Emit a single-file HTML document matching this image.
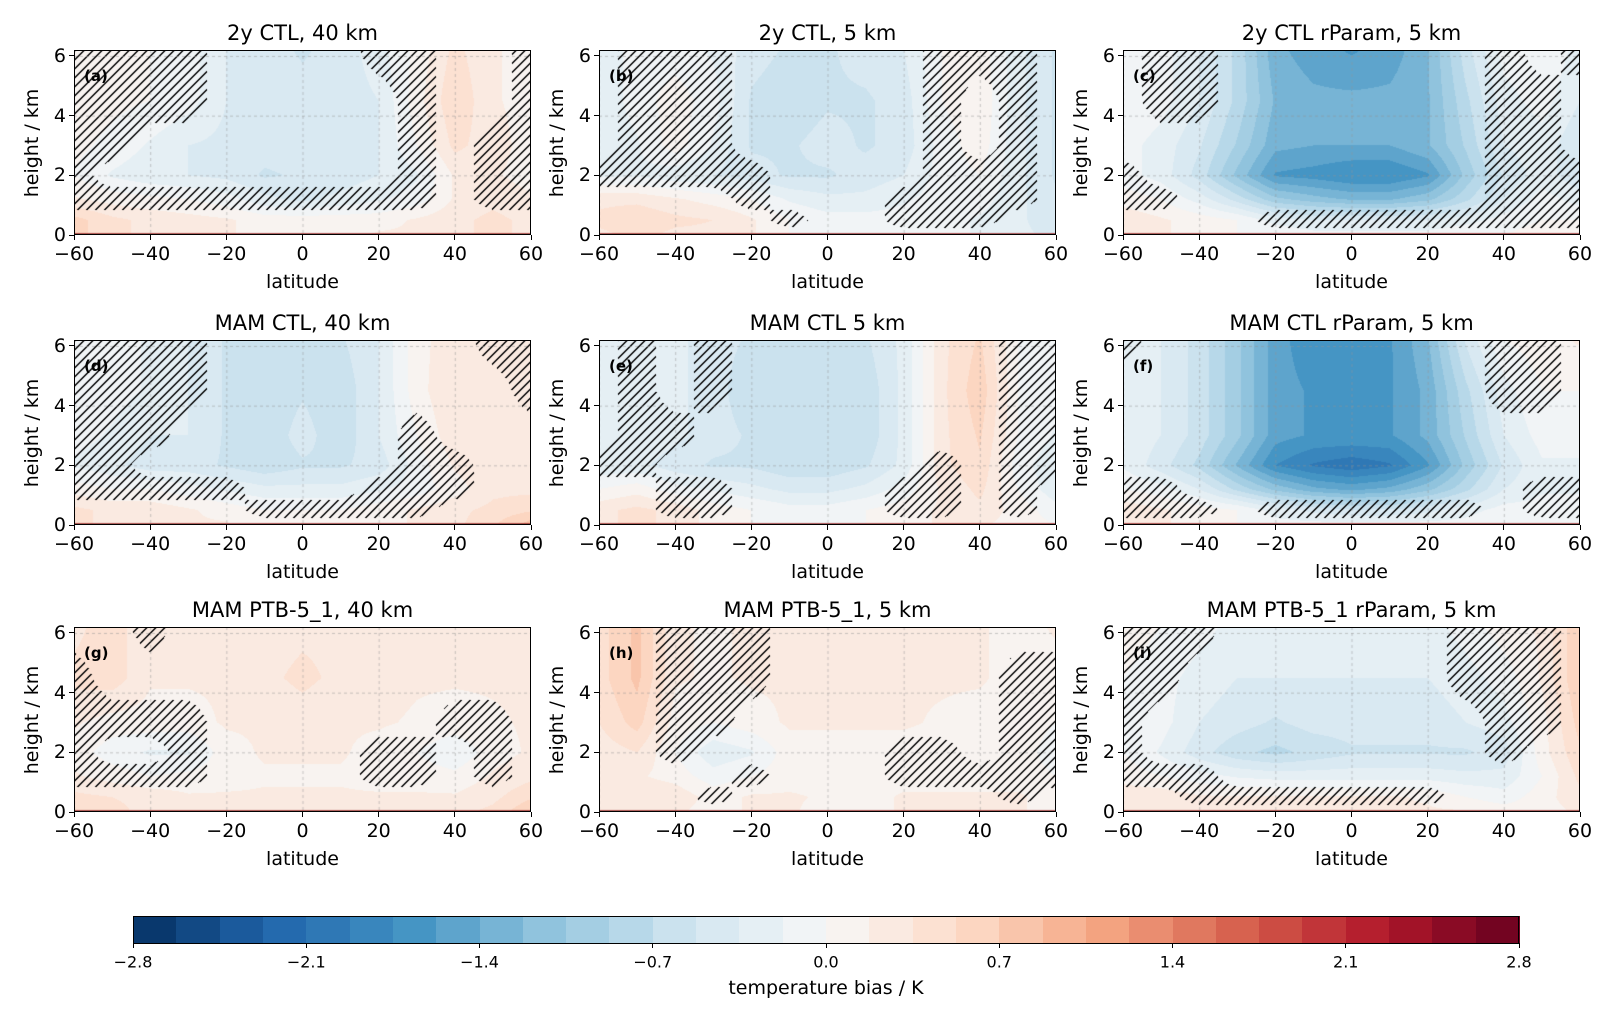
<!DOCTYPE html>
<html><head><meta charset="utf-8">
<style>
body{margin:0;width:1608px;height:1016px;background:#fff;position:relative;overflow:hidden;font-family:"DejaVu Sans","Liberation Sans",sans-serif;color:#000}
.abs{position:absolute}
canvas{position:absolute}
.frame{position:absolute;border:1px solid #000;box-sizing:border-box;pointer-events:none}
.t{position:absolute;white-space:nowrap}
</style></head>
<body>
<div id="root"></div>
<script>
const lats=[-60,-50,-40,-30,-20,-10,0,10,20,30,40,50,60];
const heights=[0,0.5,1.2,2,3,4.5,6.2];
const xTicks=[-60,-40,-20,0,20,40,60];
const yTicks=[0,2,4,6];
const cbTicks=[-2.8,-2.1,-1.4,-0.7,0.0,0.7,1.4,2.1,2.8];
const titles=["2y CTL, 40 km","2y CTL, 5 km","2y CTL rParam, 5 km","MAM CTL, 40 km","MAM CTL 5 km","MAM CTL rParam, 5 km","MAM PTB-5_1, 40 km","MAM PTB-5_1, 5 km","MAM PTB-5_1 rParam, 5 km"];
const letters=["(a)","(b)","(c)","(d)","(e)","(f)","(g)","(h)","(i)"];
const valA=[[0.6,0.4,0.3,0.2,0.2,0.1,0.1,0.1,0.2,0.2,0.3,0.4,0.3],[0.6,0.4,0.3,0.25,0.2,0.1,0.1,0.1,0.1,0.2,0.3,0.4,0.3],[0.2,0.1,0.05,0,-0.1,-0.3,-0.4,-0.3,-0.2,-0.1,0.2,0.3,0.2],[0,-0.2,-0.3,-0.35,-0.4,-0.55,-0.5,-0.45,-0.35,-0.2,0.2,0.2,0.1],[0.05,-0.05,-0.2,-0.35,-0.4,-0.45,-0.45,-0.5,-0.35,0,0.4,0.25,0.1],[0.1,0.05,0,-0.1,-0.35,-0.4,-0.45,-0.45,-0.35,0.1,0.5,0.2,0.1],[0.1,0.05,0,-0.1,-0.35,-0.45,-0.55,-0.45,-0.25,0.05,0.4,0.2,0.1]];
const valB=[[0.3,0.4,0.3,0.3,0.2,0,-0.1,-0.1,-0.1,-0.1,-0.2,-0.3,-0.4],[0.4,0.5,0.4,0.35,0.2,0,-0.1,-0.1,-0.1,-0.1,-0.2,-0.3,-0.5],[0.3,0.3,0.2,0.1,0,-0.2,-0.3,-0.3,-0.2,-0.1,-0.1,-0.3,-0.5],[-0.2,-0.2,-0.3,-0.35,-0.45,-0.55,-0.55,-0.45,-0.35,-0.1,0,-0.3,-0.55],[-0.3,-0.2,0.1,-0.2,-0.55,-0.55,-0.45,-0.55,-0.45,-0.1,0.1,-0.3,-0.55],[-0.3,-0.1,0.1,-0.1,-0.55,-0.65,-0.55,-0.55,-0.45,0,0.15,-0.3,-0.55],[-0.3,-0.1,-0.1,-0.2,-0.45,-0.55,-0.55,-0.45,-0.35,0,0.1,-0.3,-0.55]];
const valC=[[0.3,0.2,0.1,0,0,-0.1,-0.1,-0.1,-0.1,0,0,0.1,0.1],[0.3,0.2,0.1,0,-0.25,-0.35,-0.35,-0.35,-0.35,-0.25,-0.1,0,0],[0.1,0,-0.25,-0.6,-1.0,-1.15,-1.25,-1.25,-1.1,-0.75,-0.35,-0.1,-0.25],[-0.1,-0.25,-0.6,-1.1,-1.6,-1.65,-1.75,-1.75,-1.6,-1.0,-0.5,-0.25,-0.5],[-0.1,-0.25,-0.5,-0.9,-1.35,-1.4,-1.4,-1.4,-1.25,-0.85,-0.35,-0.25,-0.5],[0,-0.1,-0.35,-0.75,-1.25,-1.35,-1.35,-1.35,-1.25,-0.75,-0.25,-0.1,-0.35],[0,-0.1,-0.35,-0.75,-1.35,-1.5,-1.6,-1.5,-1.25,-0.6,-0.1,0,-0.25]];
const valD=[[0.4,0.3,0.3,0.2,0.2,0,0.1,0.1,0.1,0.2,0.3,0.5,0.8],[0.4,0.3,0.3,0.2,0.1,0,0,0,0.1,0.2,0.3,0.4,0.5],[0.1,0,0,-0.1,-0.2,-0.3,-0.3,-0.3,-0.2,-0.1,0.1,0.3,0.3],[-0.2,-0.3,-0.45,-0.45,-0.55,-0.65,-0.55,-0.55,-0.45,-0.1,0.2,0.3,0.2],[-0.1,-0.2,-0.35,-0.35,-0.55,-0.65,-0.45,-0.65,-0.35,0,0.3,0.3,0.2],[-0.1,-0.1,-0.2,-0.35,-0.55,-0.65,-0.55,-0.65,-0.35,0.1,0.35,0.3,0.2],[-0.1,-0.1,-0.2,-0.35,-0.55,-0.65,-0.65,-0.55,-0.35,0.1,0.3,0.3,0.2]];
const valE=[[0.3,0.4,0.3,0.1,0,-0.1,-0.1,0,0.1,0.2,0.2,0.1,0],[0.3,0.4,0.3,0.1,0,-0.1,-0.1,0,0.1,0.2,0.3,0.1,-0.1],[0,0.1,-0.1,-0.2,-0.3,-0.4,-0.4,-0.3,-0.1,0.2,0.4,0,-0.3],[-0.3,-0.3,-0.45,-0.55,-0.55,-0.65,-0.65,-0.55,-0.3,0.3,0.5,-0.1,-0.3],[-0.3,-0.2,-0.3,-0.45,-0.55,-0.65,-0.55,-0.65,-0.3,0.3,0.55,0,-0.2],[-0.2,-0.2,-0.3,-0.45,-0.65,-0.65,-0.55,-0.65,-0.3,0.3,0.65,0,-0.1],[-0.2,-0.2,-0.3,-0.45,-0.55,-0.65,-0.65,-0.55,-0.3,0.3,0.55,0,-0.1]];
const valF=[[0.3,0.2,0.1,0,-0.1,-0.1,-0.1,-0.1,-0.1,-0.1,0,0,0],[0.3,0.2,0.1,0,-0.25,-0.4,-0.5,-0.5,-0.4,-0.25,-0.1,-0.1,-0.1],[0,-0.1,-0.35,-0.75,-1.1,-1.35,-1.45,-1.35,-1.1,-0.75,-0.35,-0.2,-0.2],[-0.2,-0.45,-0.75,-1.25,-1.75,-1.95,-2.05,-1.95,-1.6,-1.0,-0.5,-0.2,-0.2],[-0.2,-0.35,-0.6,-1.0,-1.5,-1.6,-1.6,-1.6,-1.35,-0.85,-0.35,-0.1,-0.1],[-0.2,-0.35,-0.6,-1.0,-1.5,-1.6,-1.6,-1.6,-1.35,-0.75,-0.25,0,0],[-0.2,-0.35,-0.6,-1.0,-1.5,-1.7,-1.7,-1.6,-1.25,-0.5,0,0.1,0.2]];
const valG=[[0.4,0.4,0.3,0.3,0.3,0.3,0.2,0.2,0.3,0.3,0.3,0.4,0.7],[0.4,0.35,0.3,0.2,0.2,0.2,0.2,0.2,0.2,0.2,0.2,0.3,0.5],[0.2,0.1,0,0.05,0.1,0.15,0.15,0.15,0.1,0.1,0.05,0.2,0.3],[0.1,-0.1,-0.2,-0.2,0.1,0.2,0.2,0.2,0.1,0,-0.15,0.1,0.2],[0.2,0.1,0.1,0.1,0.2,0.2,0.25,0.2,0.2,0.15,0.1,0.15,0.2],[0.4,0.45,0.2,0.2,0.2,0.3,0.4,0.3,0.25,0.2,0.2,0.2,0.2],[0.3,0.45,0.2,0.2,0.2,0.25,0.3,0.3,0.25,0.2,0.2,0.2,0.3]];
const valH=[[0.3,0.3,0.2,0.1,0.2,0.2,0.1,0.1,0.2,0.2,0.2,0.2,0.1],[0.3,0.35,0.3,0.1,0.2,0.2,0.15,0.1,0.2,0.2,0.2,0.2,0.1],[0.2,0.2,0.1,-0.1,0,0.1,0.1,0.1,0.1,0.1,0.1,0.1,0],[0.25,0.35,0,-0.3,-0.2,0.1,0.1,0.1,0.1,0.1,0.1,0.1,-0.1],[0.35,0.6,0.1,0,0.1,0.2,0.2,0.2,0.2,0.15,0.1,0.1,0],[0.45,0.75,0.2,0.15,0.2,0.2,0.3,0.2,0.2,0.2,0.2,0.1,0.1],[0.45,0.75,0.2,0.15,0.2,0.2,0.2,0.2,0.2,0.2,0.2,0.1,0.2]];
const valI=[[0.3,0.3,0.2,0.2,0.2,0.2,0.2,0.2,0.2,0.2,0.1,0.1,0.2],[0.3,0.3,0.2,0.2,0.2,0.2,0.2,0.2,0.15,0,-0.1,0.1,0.3],[0.1,0,-0.1,-0.2,-0.25,-0.25,-0.25,-0.25,-0.25,-0.3,-0.3,0,0.4],[0,-0.2,-0.45,-0.65,-0.75,-0.65,-0.55,-0.55,-0.55,-0.55,-0.45,0.1,0.5],[0,-0.1,-0.35,-0.45,-0.55,-0.45,-0.45,-0.45,-0.45,-0.35,-0.25,0.1,0.6],[0,-0.1,-0.25,-0.35,-0.35,-0.35,-0.35,-0.35,-0.35,-0.25,-0.1,0.2,0.7],[0.1,0,-0.1,-0.25,-0.25,-0.25,-0.25,-0.3,-0.25,-0.1,0.1,0.2,0.7]];
const z=[0,0,0,0,0,0,0,0,0,0,0,0,0];
const hatA=[z,z,[1,1,1,1,1,1,1,1,1,1,0,1,1],[1,0,0,0,0,0,0,0,0,1,0,1,1],[1,1,0,0,0,0,0,0,0,1,0,1,1],[1,1,1,1,0,0,0,0,0,1,0,0,1],[1,1,1,1,0,0,0,0,1,1,0,0,1]];
const hatB=[z,[0,0,0,0,0,1,0,0,1,1,1,0,0],[0,0,0,0,1,0,0,0,1,1,1,1,0],[1,1,1,1,1,0,0,0,0,1,1,1,0],[0,1,1,1,0,0,0,0,0,1,0,1,0],[0,1,1,1,0,0,0,0,0,1,0,1,0],[0,1,1,1,0,0,0,0,0,1,1,1,0]];
const hatC=[z,[0,0,0,0,1,1,1,1,1,1,1,1,1],[1,1,0,0,0,0,0,0,0,0,1,1,1],[1,0,0,0,0,0,0,0,0,0,1,1,1],[0,0,0,0,0,0,0,0,0,0,1,1,0],[0,1,1,0,0,0,0,0,0,0,1,1,0],[0,1,1,0,0,0,0,0,0,0,1,0,1]];
const hatD=[z,[0,0,0,0,0,1,1,1,1,1,0,0,0],[1,1,1,1,1,0,0,0,1,1,1,0,0],[1,1,0,0,0,0,0,0,0,1,1,0,0],[1,1,1,0,0,0,0,0,0,1,0,0,0],[1,1,1,1,0,0,0,0,0,0,0,0,1],[1,1,1,1,0,0,0,0,0,0,0,1,1]];
const hatE=[z,[0,0,1,1,0,0,0,0,1,1,0,1,0],[0,0,1,1,0,0,0,0,1,1,0,1,0],[1,1,0,0,0,0,0,0,0,1,0,1,1],[0,1,1,0,0,0,0,0,0,0,0,1,1],[0,1,0,1,0,0,0,0,0,0,0,1,1],[0,1,0,1,0,0,0,0,0,0,0,1,1]];
const hatF=[z,[1,1,1,0,1,1,1,1,1,1,0,1,1],[1,1,0,0,0,0,0,0,0,0,0,1,1],z,z,[0,0,0,0,0,0,0,0,0,0,1,1,0],[1,0,0,0,0,0,0,0,0,0,1,1,0]];
const hatG=[z,z,[1,1,1,1,0,0,0,0,1,1,0,1,0],[1,0,0,1,0,0,0,0,1,1,0,1,0],[1,1,1,1,0,0,0,0,0,0,1,1,0],[1,0,0,0,0,0,0,0,0,0,0,0,0],[0,0,1,0,0,0,0,0,0,0,0,0,0]];
const hatH=[z,[0,0,0,1,0,0,0,0,0,0,0,1,0],[0,0,0,0,1,0,0,0,1,1,1,1,1],[0,0,1,0,0,0,0,0,1,1,0,1,1],[0,0,1,1,0,0,0,0,0,0,0,1,1],[0,0,1,1,1,0,0,0,0,0,0,1,1],[0,0,1,1,1,0,0,0,0,0,0,0,0]];
const hatI=[z,[0,0,1,1,1,1,1,1,1,0,0,0,0],[1,1,1,0,0,0,0,0,0,0,0,0,0],[1,0,0,0,0,0,0,0,0,0,1,0,0],[1,0,0,0,0,0,0,0,0,0,1,1,0],[1,1,0,0,0,0,0,0,0,1,1,1,0],[1,1,1,0,0,0,0,0,0,1,1,1,0]];
const allVals=[valA,valB,valC,valD,valE,valF,valG,valH,valI];
const allHatch=[hatA,hatB,hatC,hatD,hatE,hatF,hatG,hatH,hatI];

const pal=["#053061","#2166ac","#4393c3","#92c5de","#d1e5f0","#f7f7f7","#fddbc7","#f4a582","#d6604d","#b2182b","#67001f"].map(h=>[parseInt(h.substr(1,2),16),parseInt(h.substr(3,2),16),parseInt(h.substr(5,2),16)]);
function cmap(f){f=Math.max(0,Math.min(1,f));const p=f*10,i=Math.min(9,Math.floor(p)),t=p-i;return pal[i].map((c,k)=>Math.round(c+(pal[i+1][k]-c)*t));}
const VMIN=-2.8,VMAX=2.8,NL=32,STEP=(VMAX-VMIN)/NL;
function levelColor(v){let k=Math.floor((v-VMIN)/STEP);k=Math.max(0,Math.min(NL-1,k));return cmap((k+0.5)/NL);}
function interp(grid,lat,h){
  let i=Math.min(lats.length-2,Math.max(0,Math.floor((lat-lats[0])/10)));
  let tx=(lat-lats[i])/10;
  let j=0;while(j<heights.length-2&&h>heights[j+1])j++;
  let ty=(h-heights[j])/(heights[j+1]-heights[j]);ty=Math.max(0,Math.min(1,ty));
  const a=grid[j][i],b=grid[j][i+1],c=grid[j+1][i],d=grid[j+1][i+1];
  return (a*(1-tx)+b*tx)*(1-ty)+(c*(1-tx)+d*tx)*ty;
}
const colX=[74,599,1123],rowY=[50,340,627],PW=457,PH=185,YMAX=6.2;
const root=document.getElementById('root');
function txt(s,x,y,size,align,extra){const d=document.createElement('div');d.className='t';d.textContent=s;d.style.fontSize=size+'px';d.style.left=x+'px';d.style.top=y+'px';
 d.style.transform=align==='c'?'translate(-50%,-50%)':align==='r'?'translate(-100%,-50%)':'translate(0,-50%)';if(extra)Object.assign(d.style,extra);root.appendChild(d);return d;}
for(let p=0;p<9;p++){
  const x0=colX[p%3],y0=rowY[Math.floor(p/3)];
  const xs=lat=>x0+(lat+60)/120*PW, ys=h=>y0+PH-h/YMAX*PH;
  const cv=document.createElement('canvas');cv.width=PW;cv.height=PH;cv.style.left=x0+'px';cv.style.top=y0+'px';
  
  
  root.appendChild(cv);
  const ctx=cv.getContext('2d');const im=ctx.createImageData(PW,PH);
  const vals=allVals[p],hat=allHatch[p];
  for(let py=0;py<PH;py++){const h=(PH-py-0.5)/PH*YMAX;
    for(let px=0;px<PW;px++){const lat=-60+(px+0.5)/PW*120;
      let c=levelColor(interp(vals,lat,h));
      const m=interp(hat,lat,h);
      if(m>0.5&&((px+py)%9)<1.3)c=[0,0,0];
      const o=(py*PW+px)*4;im.data[o]=c[0];im.data[o+1]=c[1];im.data[o+2]=c[2];im.data[o+3]=255;}}
  ctx.putImageData(im,0,0);
  ctx.strokeStyle='rgba(150,150,150,0.5)';ctx.setLineDash([3,3]);ctx.lineWidth=1;
  xTicks.forEach(t=>{const gx=xs(t)-x0;ctx.beginPath();ctx.moveTo(gx+0.5,0);ctx.lineTo(gx+0.5,PH);ctx.stroke();});
  yTicks.forEach(t=>{const gy=ys(t)-y0;ctx.beginPath();ctx.moveTo(0,gy+0.5);ctx.lineTo(PW,gy+0.5);ctx.stroke();});
  ctx.setLineDash([]);ctx.strokeStyle='#8b1a1a';ctx.lineWidth=1.5;ctx.beginPath();ctx.moveTo(0,PH-1);ctx.lineTo(PW,PH-1);ctx.stroke();
  const fr=document.createElement('div');fr.className='frame';fr.style.left=x0+'px';fr.style.top=y0+'px';fr.style.width=PW+'px';fr.style.height=PH+'px';
  
  
  root.appendChild(fr);
  const tt=txt(titles[p],x0+PW/2,y0-17,21,'c');
  
  
  const lt=txt(letters[p],x0+10,y0+26,15,'l',{fontWeight:'bold'});
  
  
  xTicks.forEach(t=>{const tk=document.createElement('div');tk.className='abs';tk.style.left=(xs(t)-0.5)+'px';tk.style.top=(y0+PH)+'px';tk.style.width='1px';tk.style.height='5px';tk.style.background='#000';
    
    
    root.appendChild(tk);
    const l=txt((t<0?'\u2212':'')+Math.abs(t),xs(t),y0+PH+19,19,'c');
    
    });
  yTicks.forEach(t=>{const tk=document.createElement('div');tk.className='abs';tk.style.left=(x0-5)+'px';tk.style.top=(ys(t)-0.5)+'px';tk.style.width='5px';tk.style.height='1px';tk.style.background='#000';
    
    
    root.appendChild(tk);
    const l=txt(String(t),x0-8,ys(t),19,'r');
    
    });
  const xl=txt('latitude',x0+PW/2,y0+PH+47,19,'c');
  
  
  const yl=txt('height / km',x0-42,y0+PH/2,19,'c');yl.style.transform='translate(-50%,-50%) rotate(-90deg)';
  
  
}
const CBX=133,CBW=1386,CBY=916,CBH=27;
for(let k=0;k<NL;k++){const c=cmap((k+0.5)/NL);const d=document.createElement('div');d.className='abs';
  d.style.left=(CBX+k*CBW/NL)+'px';d.style.top=CBY+'px';d.style.width=(CBW/NL+0.6)+'px';d.style.height=CBH+'px';d.style.background='rgb('+c.join(',')+')';
  
  
  root.appendChild(d);}
const cbf=document.createElement('div');cbf.className='frame';cbf.style.left=CBX+'px';cbf.style.top=CBY+'px';cbf.style.width=CBW+'px';cbf.style.height=(CBH+1)+'px';


root.appendChild(cbf);
cbTicks.forEach(t=>{const x=CBX+(t-VMIN)/(VMAX-VMIN)*CBW;const tk=document.createElement('div');tk.className='abs';tk.style.left=(x-0.5)+'px';tk.style.top=(CBY+CBH)+'px';tk.style.width='1px';tk.style.height='5px';tk.style.background='#000';
  
  
  root.appendChild(tk);
  const l=txt((t<0?'\u2212':'')+Math.abs(t).toFixed(1),x,CBY+CBH+19,16,'c');
  
  });
const cbl=txt('temperature bias / K',CBX+CBW/2,988,19,'c');


</script>
</body></html>
